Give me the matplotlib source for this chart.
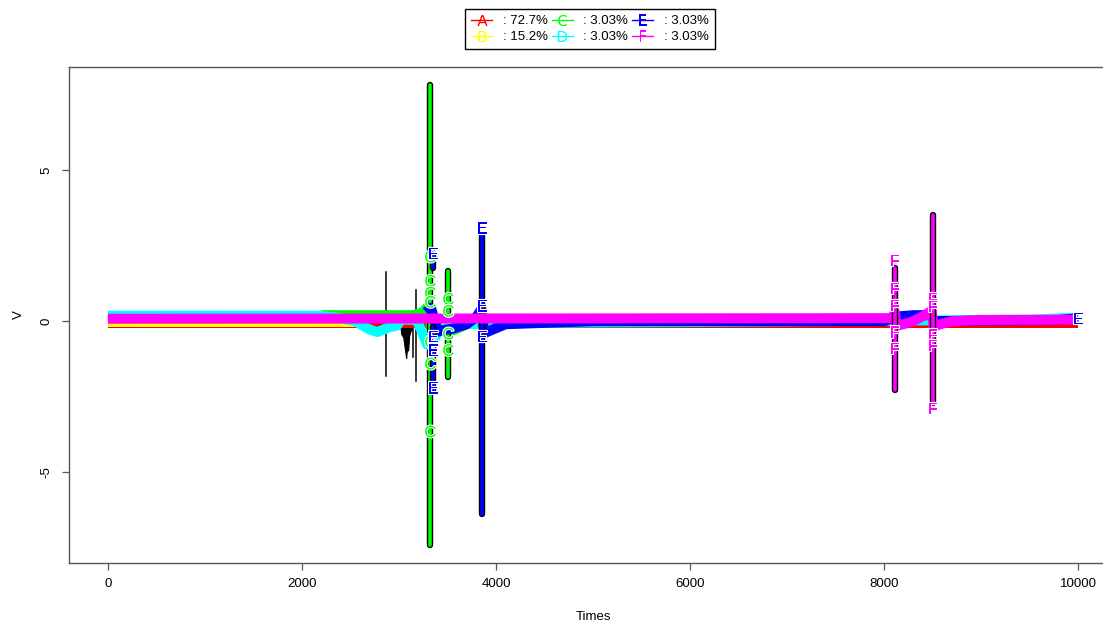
import matplotlib
matplotlib.use('Agg')
import matplotlib.pyplot as plt
from matplotlib.lines import Line2D
import matplotlib.patheffects as pe

plt.rcParams['font.family'] = ['Liberation Sans', 'DejaVu Sans']

# ---------------- data ----------------
clusters = ['A', 'B', 'C', 'D', 'E', 'F']
shares = ['72.7%', '15.2%', '3.03%', '3.03%', '3.03%', '3.03%']
colors = ['#FF0000', '#FFFF00', '#00FF00', '#00FFFF', '#0000FF', '#FF00FF']

x_ticks = [0, 2000, 4000, 6000, 8000, 10000]
y_ticks = [-5, 0, 5]

# baseline traces of each cluster (time, value)
A_t = [0, 10000]
A_v = [-0.06, -0.06]
B_t = [0, 2650]
B_v = [-0.03, -0.03]
C_t = [2200, 3150, 3250, 3300, 3330, 3380, 3450, 3520, 3600, 3700]
C_v = [0.2, 0.2, 0.3, 0.5, -0.2, -0.35, -0.3, -0.35, -0.25, -0.1]
D_t = [0, 2200, 2400, 2550, 2700, 2780, 2900, 2980, 3020, 3180, 3230, 3290, 3340, 3420,
       3600, 4500, 6000, 9500, 10000]
D_v = [0.18, 0.18, 0.1, 0.0, -0.28, -0.36, -0.2, -0.15, 0.05, 0.05, -0.3, -0.78, -0.75,
       -0.25, -0.1, -0.05, -0.03, 0.05, 0.12]
E_t = [3280, 3330, 3400, 3450, 3550, 3700, 3800, 3850, 3880, 3950, 4100, 5000, 8000,
       8120, 8300, 8480, 8520, 9000, 9800, 10000]
E_v = [0.3, 0.45, -0.35, -0.3, -0.25, -0.1, 0.15, 0.4, -0.4, -0.3, -0.1, 0.0, 0.0,
       0.15, 0.2, 0.2, 0.0, 0.02, 0.04, 0.1]
F_t = [0, 8080, 8112, 8125, 8200, 8300, 8420, 8490, 8510, 8560, 8700, 9000, 10000]
F_v = [0.08, 0.1, 0.3, -0.15, -0.1, 0.0, 0.2, 0.35, -0.2, -0.12, 0.0, 0.04, 0.05]

# large excursions (spikes) per cluster
spike_t = [3352, 3352, 3323, 3509, 3860, 8112, 8503]
spike_top = [2.25, -0.2, 7.82, 1.66, 2.85, 1.76, 3.51]
spike_bot = [1.75, -2.3, -7.41, -1.84, -6.41, -2.27, -2.70]
spike_cluster = ['E', 'E', 'C', 'C', 'E', 'F', 'F']

# thin black excursions of the raw signal
black_t = [2869, 3178, 3140]
black_top = [1.63, 1.04, -0.2]
black_bot = [-1.81, -2.0, -1.2]
blob_t = [3020, 3030, 3050, 3065, 3080, 3090, 3100, 3110, 3130, 3150]
blob_v = [-0.2, -0.45, -0.55, -0.9, -1.25, -0.85, -1.0, -0.5, -0.3, -0.2]

# letter markers
C_mark_t = [3323, 3323, 3323, 3323, 3323, 3323, 3323, 3509, 3509, 3509, 3509]
C_mark_v = [2.1, 1.3, 0.9, 0.6, -0.72, -1.45, -3.7, 0.7, 0.3, -0.45, -1.0]
E_mark_t = [3355, 3355, 3355, 3355, 3860, 3860, 3860, 10000]
E_mark_v = [2.2, -0.55, -1.0, -2.25, 3.05, 0.47, -0.55, 0.05]
F_mark_t = [8112, 8112, 8112, 8112, 8112, 8503, 8503, 8503, 8503, 8503]
F_mark_v = [1.97, 1.04, 0.48, -0.4, -0.95, 0.7, 0.44, -0.5, -0.85, -2.94]

# ---------------- figure ----------------
W, H = 1103, 624
fig = plt.figure(figsize=(W / 100, H / 100), dpi=100)
left_px, top_px, bottom_px, right_px = 69, 67, 563, 1117
ax = fig.add_axes([left_px / W, (H - bottom_px) / H, (right_px - left_px) / W,
                   (bottom_px - top_px) / H])
ax.set_xlim(-400, 10400)
ax.set_ylim(-8.02, 8.43)

col = dict(zip(clusters, colors))
band_lw = 7.2

traces = {'A': (A_t, A_v), 'B': (B_t, B_v), 'C': (C_t, C_v),
          'D': (D_t, D_v), 'E': (E_t, E_v), 'F': (F_t, F_v)}

# raw black signal excursions
for t, a, b in zip(black_t, black_top, black_bot):
    ax.plot([t, t], [a, b], color='black', lw=1.1, zorder=1)
ax.fill(blob_t, blob_v, color='black', lw=0.8, zorder=1)

for i, c in enumerate(clusters):
    t, v = traces[c]
    ax.plot(t, v, color=col[c], lw=band_lw, solid_capstyle='butt', zorder=2 + i * 2)
    for st, a, b, sc in zip(spike_t, spike_top, spike_bot, spike_cluster):
        if sc == c:
            ax.plot([st, st], [a, b], color='black', lw=4.6, solid_capstyle='round',
                    zorder=2 + i * 2)
            ax.plot([st, st], [a, b], color=col[c], lw=2.6, solid_capstyle='round',
                    zorder=2 + i * 2)

halo = [pe.withStroke(linewidth=1.6, foreground='white')]
for mt, mv, c, z in [(C_mark_t, C_mark_v, 'C', 20), (E_mark_t, E_mark_v, 'E', 21),
                     (F_mark_t, F_mark_v, 'F', 22)]:
    for t, v in zip(mt, mv):
        ax.text(t, v, c, color=col[c], fontsize=12, ha='center', va='center',
                zorder=z, path_effects=halo)

# axes styling (R base graphics look)
for s in ax.spines.values():
    s.set_color('#555555')
    s.set_linewidth(1.0)
ax.set_xticks(x_ticks)
ax.set_xticklabels([str(v) for v in x_ticks])
ax.set_yticks(y_ticks)
ax.set_yticklabels([str(v) for v in y_ticks], rotation=90, va='center')
ax.tick_params(direction='out', length=5, width=0.9, color='#555555',
               labelsize=9.5, pad=6)
ax.tick_params(axis='y', pad=7)
ax.set_xlabel('Times', fontsize=9.5, labelpad=15)
ax.set_ylabel('V', fontsize=9.5, labelpad=11)

# legend
handles = [Line2D([], [], color=col[c], lw=1.0, marker='$\\mathsf{%s}$' % c,
                  markersize=8, markeredgewidth=0) for c in clusters]
labels = [': ' + s for s in shares]
leg = fig.legend(handles, labels, loc='upper center', bbox_to_anchor=(590 / W, 1 - 9 / H),
                 ncol=3, frameon=True, fancybox=False, edgecolor='black', framealpha=1,
                 fontsize=9.5, handlelength=1.6, handletextpad=0.8, columnspacing=0.3,
                 labelspacing=0.3, borderpad=0.45, borderaxespad=0)
leg.get_frame().set_linewidth(1.0)

fig.savefig('out.png', dpi=100)
